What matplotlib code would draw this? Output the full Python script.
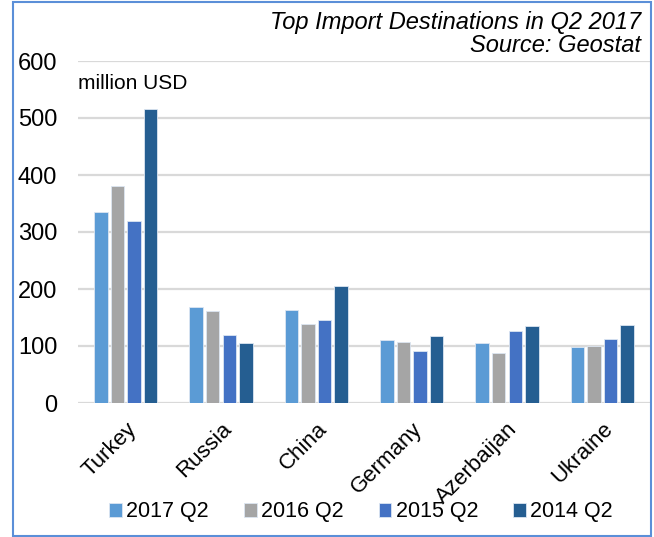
import matplotlib
matplotlib.use("Agg")
from matplotlib import pyplot as plt
from matplotlib.patches import Rectangle
import numpy as np

plt.rcParams['font.family'] = ['Liberation Sans', 'DejaVu Sans']

countries = ["Turkey", "Russia", "China", "Germany", "Azerbaijan", "Ukraine"]
series = ["2017 Q2", "2016 Q2", "2015 Q2", "2014 Q2"]
q2_2017 = [335, 169, 164, 110, 106, 98]
q2_2016 = [380, 161, 139, 107, 87, 100]
q2_2015 = [320, 120, 145, 91, 126, 113]
q2_2014 = [515, 105, 205, 118, 135, 136]
colors = ["#5B9BD5", "#A5A5A5", "#4472C4", "#255E91"]

fig = plt.figure(figsize=(6.54, 5.37), dpi=100)
ax = fig.add_axes([78 / 654, 1 - 403 / 537, (650 - 78) / 654, (403 - 61) / 537])

x = np.arange(len(countries))
slot = 0.174
for i, (vals, name) in enumerate(zip([q2_2017, q2_2016, q2_2015, q2_2014], series)):
    ax.bar(x + (i - 1.5) * slot, vals, width=0.142, color=colors[i],
           edgecolor="#DCE6F2", linewidth=0.6, label=name, zorder=3)

ax.set_xlim(-0.5, len(countries) - 0.5)
ax.set_ylim(0, 600)
ax.set_yticks(range(0, 601, 100))
ax.yaxis.grid(True, color="#D9D9D9", linewidth=1.6, zorder=0)
ax.set_axisbelow(True)
for s in ["top", "right", "left", "bottom"]:
    ax.spines[s].set_visible(False)
ax.tick_params(axis="y", length=0, labelsize=17, pad=15)
ax.set_xticks(x)
ax.set_xticklabels(countries, rotation=45, ha="right", rotation_mode="anchor")
ax.tick_params(axis="x", length=0, labelsize=16, pad=11)

ax.text(-0.5, 560, "million USD", fontsize=15, va="center", ha="left")

fig.text(641 / 654, 1 - 22 / 537, "Top Import Destinations in Q2 2017",
         fontsize=17, style="italic", ha="right", va="center")
fig.text(641 / 654, 1 - 46 / 537, "Source: Geostat",
         fontsize=17, style="italic", ha="right", va="center")

fig.legend(loc="center", bbox_to_anchor=(361 / 654, 1 - 512 / 537), ncol=4, frameon=False,
           fontsize=15.5, handlelength=0.6, handleheight=0.6, handletextpad=0.2,
           columnspacing=1.62)

fig.patches.append(Rectangle((13 / 654, 1 / 537), 638 / 654, 534 / 537,
                             transform=fig.transFigure, fill=False,
                             edgecolor="#5B8FD8", linewidth=1.5))

fig.savefig("out.png", dpi=100)
